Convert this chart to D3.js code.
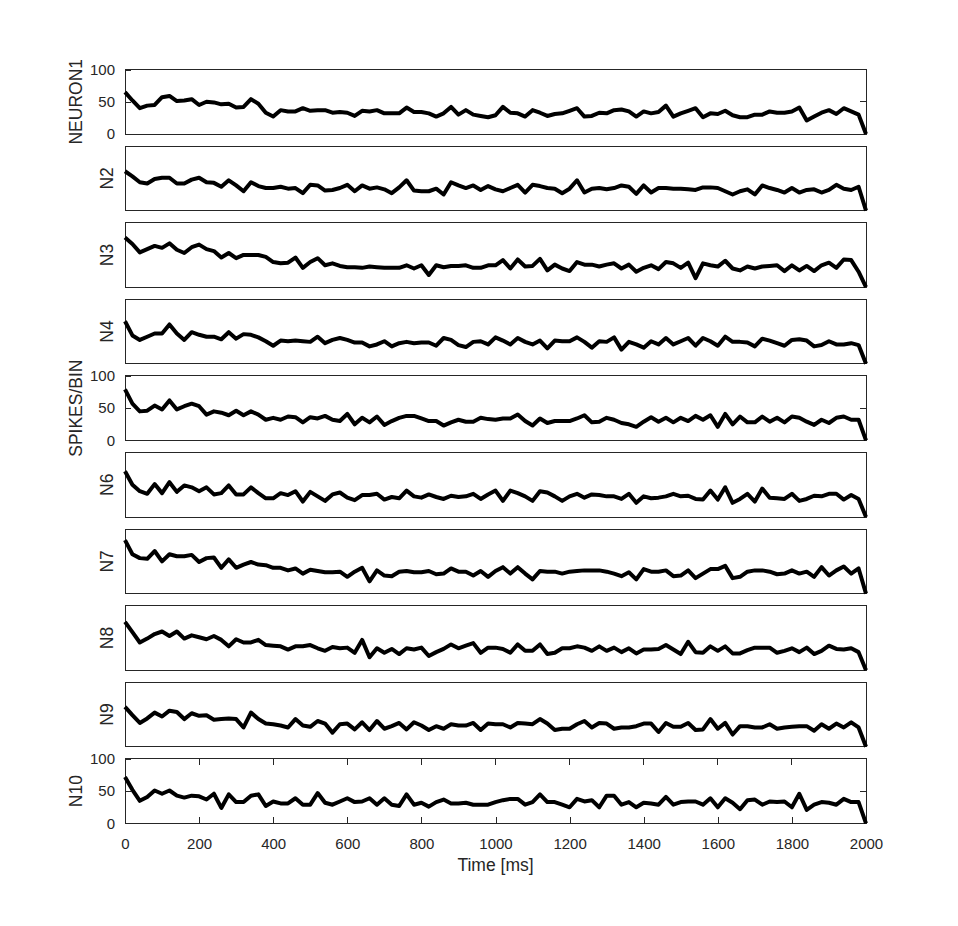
<!DOCTYPE html>
<html>
<head>
  <meta charset="utf-8">
  <title>Spikes per bin</title>
  <style>
    body { margin: 0; background: white; }
    .frame { fill: none; stroke: #262626; stroke-width: 1px; shape-rendering: crispEdges; }
    .tick-line { stroke: #262626; stroke-width: 1px; shape-rendering: crispEdges; }
    .tick-label { font-family: "Liberation Sans", Arial, sans-serif; font-size: 15px; fill: #262626; }
    .axis-label { font-family: "Liberation Sans", Arial, sans-serif; font-size: 17.5px; fill: #262626; }
    .trace { fill: none; stroke: black; stroke-width: 4px; stroke-linejoin: round; stroke-linecap: butt; }
  </style>
</head>
<body>
  <div id="chart"></div>

  <script src="https://d3js.org/d3.v7.min.js"></script>
  <script>
    const width = 958;
    const height = 926;

    // bins of 20 ms, 0..2000
    const binWidth = 20;
    const maxTime = 2000;

    const neuron1 = [65,52,40,44,45,57,59,51,52,54,45,50,49,46,47,41,42,54,47,33,27,37,35,35,40,36,37,37,33,34,33,28,36,35,37,32,32,32,41,34,34,32,27,32,42,30,
      37,30,28,26,29,42,33,32,27,37,33,28,31,32,36,40,27,28,33,32,37,38,35,27,35,32,34,44,27,32,36,40,26,32,31,36,29,26,26,30,30,35,33,33,35,41,21,27,33,37,31,40,35,30,0];
    const neuron2 = [61,53,44,42,49,51,51,42,42,48,51,44,43,37,47,39,30,44,38,35,35,37,34,35,27,40,39,31,32,35,40,30,39,34,36,33,27,36,47,31,30,30,34,25,44,39,
      35,39,32,38,33,30,35,40,28,40,38,35,34,27,34,47,28,34,35,33,35,39,37,26,39,28,35,35,34,34,33,32,36,36,35,30,25,30,33,25,39,35,32,28,35,28,32,33,28,32,40,34,32,37,0];
    const neuron3 = [77,67,54,59,64,61,68,58,53,62,66,59,56,46,53,45,50,50,50,47,39,37,38,46,30,39,45,34,37,33,31,31,30,32,31,30,30,30,34,29,34,19,34,31,33,33,
      34,30,30,34,34,42,29,43,32,33,44,26,35,29,25,39,35,35,32,35,37,29,35,24,30,34,28,39,37,30,38,14,37,34,32,41,29,26,32,29,32,33,34,25,34,26,33,25,34,38,30,43,42,24,0];
    const neuron4 = [66,44,37,42,47,47,61,47,37,49,45,42,42,38,49,39,46,45,41,35,28,36,35,36,35,34,42,32,37,40,37,33,33,27,30,35,27,32,34,32,33,33,28,40,37,29,
      26,34,35,30,41,36,30,40,34,30,36,24,36,35,35,41,34,25,35,34,41,22,34,30,25,35,30,40,30,35,40,28,40,35,28,42,34,34,33,27,39,36,32,28,37,38,36,27,29,35,30,30,32,29,0];
    const neuron5 = [79,57,45,46,54,48,62,48,53,57,53,40,45,43,39,46,39,45,40,32,35,32,37,36,28,36,34,38,32,30,41,25,35,28,37,24,30,35,38,38,34,30,30,23,28,32,
      29,29,35,33,32,34,34,40,30,23,34,27,30,30,30,34,39,28,29,35,32,27,25,21,29,36,29,35,28,35,30,38,32,39,21,41,25,37,28,28,37,29,35,28,37,35,29,24,32,27,35,37,32,32,0];
    const neuron6 = [71,50,40,36,51,37,54,39,49,46,40,46,35,37,49,35,35,46,37,29,29,37,34,40,24,39,32,25,35,38,30,26,34,34,36,27,31,29,41,32,30,35,31,28,33,31,
      32,36,28,35,41,25,41,37,32,25,40,38,32,25,32,36,30,35,34,32,32,28,36,22,32,29,30,32,36,32,33,28,27,41,27,46,22,28,36,24,44,30,29,28,36,25,28,33,32,36,36,27,34,28,0];
    const neuron7 = [83,61,55,54,66,50,61,58,58,60,49,55,56,40,53,40,45,49,45,44,40,40,36,39,31,37,35,33,33,34,26,34,40,19,36,28,27,34,35,33,33,35,30,31,39,34,
      34,28,35,26,35,41,31,41,31,22,35,34,34,31,34,35,36,36,36,34,31,27,33,22,38,34,34,36,27,28,36,24,31,38,38,43,24,26,34,36,36,34,30,31,36,31,34,26,41,28,36,42,31,39,0];
    const neuron8 = [75,59,43,49,56,60,53,60,49,54,51,48,53,47,37,48,43,43,47,39,38,37,32,37,37,39,34,30,36,34,35,27,47,20,34,27,33,25,34,32,35,22,28,33,40,34,
      38,42,27,35,35,33,27,40,30,30,40,25,27,34,34,37,35,30,37,30,35,28,34,26,32,32,33,39,32,25,44,28,27,37,30,37,26,26,31,35,35,35,27,30,34,28,35,25,30,38,33,32,34,28,0];
    const neuron9 = [62,49,37,44,53,47,56,54,43,52,48,49,42,43,44,43,30,53,43,36,35,33,30,43,33,31,40,36,22,35,36,27,38,26,40,28,32,37,27,38,33,26,32,28,35,33,
      33,37,26,36,35,35,30,37,36,35,43,36,26,28,28,35,40,30,37,36,28,30,30,32,36,36,23,37,31,31,37,26,27,43,28,37,19,32,32,30,30,35,28,30,31,32,32,25,35,28,36,30,38,30,0];
    const neuron10 = [72,52,35,41,51,46,51,43,40,43,42,37,46,24,45,33,33,43,45,27,34,31,31,39,29,29,47,32,29,34,39,33,34,39,29,39,29,27,45,29,32,26,33,37,31,31,
      32,29,29,29,33,36,38,38,29,33,45,33,33,29,25,38,34,36,25,43,43,29,33,25,32,31,29,41,29,33,34,34,29,39,25,39,32,22,36,37,29,34,33,34,25,46,21,29,33,32,29,38,33,33,0];

    const series = [neuron1, neuron2, neuron3, neuron4, neuron5, neuron6, neuron7, neuron8, neuron9, neuron10];
    const panelLabels = ["NEURON1", "N2", "N3", "N4", "SPIKES/BIN", "N6", "N7", "N8", "N9", "N10"];
    const labelledPanels = [0, 4, 9];   // panels that show y tick labels
    const yTicks = [0, 50, 100];
    const xTicks = [0, 200, 400, 600, 800, 1000, 1200, 1400, 1600, 1800, 2000];
    const xLabel = "Time [ms]";

    // layout
    const left = 125, right = 866;
    const firstTop = 69.5, panelStep = 76.6, panelHeight = 64.5;
    const tickLen = 6;

    const svg = d3.select("#chart")
      .append("svg")
      .attr("width", width)
      .attr("height", height);

    const xScale = d3.scaleLinear()
      .domain([0, maxTime])
      .range([left, right]);

    function styleAxis(ax) {
      ax.select(".domain").remove();
      ax.selectAll("line").attr("class", "tick-line");
      ax.selectAll("text").attr("class", "tick-label").attr("fill", null);
      ax.attr("font-family", null).attr("font-size", null);
    }

    function renderPanel(values, idx) {
      const top = firstTop + idx * panelStep;
      const bottom = top + panelHeight;
      const yScale = d3.scaleLinear().domain([0, 100]).range([bottom, top]);
      const showY = labelledPanels.includes(idx);
      const isLast = idx === series.length - 1;

      const g = svg.append("g").attr("class", "panel").attr("index", idx);

      // y ticks, inside on both sides
      if (showY) {
        g.append("g")
          .attr("transform", "translate(" + left + ",0)")
          .call(d3.axisLeft(yScale).tickValues(yTicks).tickSizeInner(-tickLen).tickSizeOuter(0).tickPadding(10))
          .call(styleAxis);
        g.append("g")
          .selectAll("line")
          .data(yTicks)
          .enter()
          .append("line")
          .attr("class", "tick-line")
          .attr("x1", right - tickLen).attr("x2", right)
          .attr("y1", d => yScale(d)).attr("y2", d => yScale(d));
      }

      // x ticks only on the bottom panel
      if (isLast) {
        g.append("g")
          .attr("transform", "translate(0," + bottom + ")")
          .call(d3.axisBottom(xScale).tickValues(xTicks).tickSizeInner(-tickLen).tickSizeOuter(0).tickPadding(15).tickFormat(d3.format("d")))
          .call(styleAxis);
        g.append("g")
          .selectAll("line")
          .data(xTicks)
          .enter()
          .append("line")
          .attr("class", "tick-line")
          .attr("x1", d => xScale(d)).attr("x2", d => xScale(d))
          .attr("y1", top).attr("y2", top + tickLen);
      }

      // box
      g.append("rect")
        .attr("class", "frame")
        .attr("x", left)
        .attr("y", top)
        .attr("width", right - left)
        .attr("height", panelHeight);

      const line = d3.line()
        .x((d, i) => xScale(i * binWidth))
        .y(d => yScale(d));

      g.append("path")
        .datum(values)
        .attr("class", "trace")
        .attr("d", line);

      // rotated panel label
      const labelX = showY ? 82 : 113;
      g.append("text")
        .attr("class", "axis-label")
        .attr("text-anchor", "middle")
        .attr("transform", "translate(" + labelX + "," + (top + panelHeight / 2) + ") rotate(-90)")
        .text(panelLabels[idx]);
    }

    series.forEach((values, idx) => renderPanel(values, idx));

    svg.append("text")
      .attr("class", "axis-label")
      .attr("text-anchor", "middle")
      .attr("x", (left + right) / 2)
      .attr("y", 871)
      .text(xLabel);
  </script>
</body>
</html>
